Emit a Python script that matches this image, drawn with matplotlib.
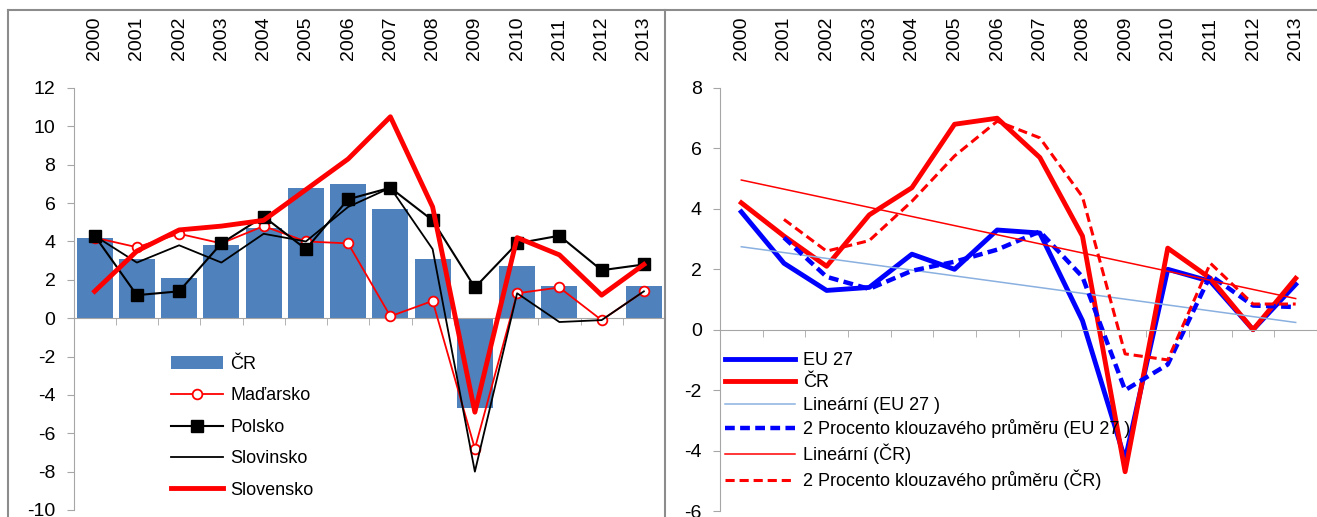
import numpy as np
import pandas as pd
from matplotlib import pyplot as plt
from matplotlib.lines import Line2D

plt.rcParams['font.family'] = ['Liberation Sans Narrow', 'Liberation Sans', 'DejaVu Sans']
plt.rcParams['axes.unicode_minus'] = False

years = [str(y) for y in range(2000, 2014)]

# left chart
cr = [4.2, 3.1, 2.1, 3.8, 4.7, 6.8, 7.0, 5.7, 3.1, -4.7, 2.7, 1.7, 0.0, 1.7]
madarsko = [4.2, 3.7, 4.4, 3.9, 4.8, 4.0, 3.9, 0.1, 0.9, -6.8, 1.3, 1.6, -0.1, 1.4]
polsko = [4.3, 1.2, 1.4, 3.9, 5.3, 3.6, 6.2, 6.8, 5.1, 1.6, 3.9, 4.3, 2.5, 2.8]
slovinsko = [4.3, 2.9, 3.8, 2.9, 4.4, 4.0, 5.8, 6.8, 3.6, -8.0, 1.3, -0.2, -0.1, 1.4]
slovensko = [1.4, 3.5, 4.6, 4.8, 5.1, 6.7, 8.3, 10.5, 5.8, -4.9, 4.2, 3.3, 1.2, 2.8]

# right chart
eu27 = [3.9, 2.2, 1.3, 1.4, 2.5, 2.0, 3.3, 3.2, 0.3, -4.3, 2.0, 1.6, 0.0, 1.5]

W, H = 1317, 517
AXIS_GREY = '#A6A6A6'
FRAME_GREY = '#8C8C8C'


def px_axes(fig, x0, x1, ytop, ybot):
    return fig.add_axes([x0 / W, (H - ybot) / H, (x1 - x0) / W, (ybot - ytop) / H])


def style_axes(ax, ymin, ymax, px_per_cat, x0, x1):
    x = np.arange(len(years))
    ax.set_xlim(-0.5, -0.5 + (x1 - x0) / px_per_cat)
    ax.set_ylim(ymin, ymax)
    ax.set_yticks(np.arange(ymin, ymax + 1, 2))
    ax.set_xticks(x)
    ax.set_xticklabels(years)
    ax.set_xticks(np.arange(0.5, len(years), 1), minor=True)
    for s in ['top', 'right']:
        ax.spines[s].set_visible(False)
    ax.spines['bottom'].set_position(('data', 0))
    ax.spines['bottom'].set_color(AXIS_GREY)
    ax.spines['left'].set_color(AXIS_GREY)
    ax.tick_params(axis='x', which='major', bottom=False, top=False,
                   labelbottom=False, labeltop=True, labelrotation=90,
                   labelsize=14, pad=17)
    ax.tick_params(axis='x', which='minor', bottom=True, direction='out',
                   length=5, color=AXIS_GREY)
    ax.tick_params(axis='y', direction='out', length=5, color=AXIS_GREY,
                   labelsize=14, pad=8)
    ax.set_facecolor('none')


fig = plt.figure(figsize=(W / 100, H / 100), dpi=100)

# ---- left panel
lx0, lx1 = 73.5, 665
ax1 = px_axes(fig, lx0, lx1, 88, 510)
x = np.arange(len(years))
b = ax1.bar(x, cr, width=0.85, color='#4F81BD', label='ČR', zorder=1)
l1, = ax1.plot(x, madarsko, color='red', lw=1.3, marker='o', ms=7,
               mfc='white', mec='red', mew=1.3, label='Maďarsko', zorder=3)
l2, = ax1.plot(x, polsko, color='black', lw=1.5, marker='s', ms=8,
               label='Polsko', zorder=4)
l3, = ax1.plot(x, slovinsko, color='black', lw=1.3, label='Slovinsko', zorder=3)
l4, = ax1.plot(x, slovensko, color='red', lw=3.5, label='Slovensko', zorder=5)
style_axes(ax1, -10, 12, 42.9, lx0, lx1)
ax1.legend(handles=[b, l1, l2, l3, l4], loc='upper left',
           bbox_to_anchor=(162 / W, 1 - 347 / H),
           bbox_transform=fig.transFigure, frameon=False, fontsize=13,
           handlelength=2.9, labelspacing=0.8, handletextpad=0.4,
           borderpad=0)

# ---- right panel
rx0, rx1 = 720, 1317
ax2 = px_axes(fig, rx0, rx1, 88, 511)
eu = pd.Series(eu27)
czr = pd.Series(cr)
lin_eu = np.polyval(np.polyfit(x, eu, 1), x)
lin_cr = np.polyval(np.polyfit(x, czr, 1), x)
ma_eu = eu.rolling(2).mean()
ma_cr = czr.rolling(2).mean()

ax2.plot(x, eu, color='blue', lw=3.5, label='EU 27')
ax2.plot(x, czr, color='red', lw=3.5, label='ČR')
ax2.plot(x, lin_eu, color='#8AB0E0', lw=1.1, label='Lineární (EU 27 )')
ax2.plot(x, ma_eu, color='blue', lw=3.2, ls=(0, (2.2, 1.2)),
         label='2 Procento klouzavého průměru (EU 27 )')
ax2.plot(x, lin_cr, color='red', lw=1.1, label='Lineární (ČR)')
ax2.plot(x, ma_cr, color='red', lw=2.2, ls=(0, (3, 1.6)),
         label='2 Procento klouzavého průměru (ČR)')
style_axes(ax2, -6, 8, 43.3, rx0, rx1)
ax2.legend(loc='upper left', bbox_to_anchor=(716 / W, 1 - 343 / H),
           bbox_transform=fig.transFigure, frameon=False, fontsize=13,
           handlelength=3.9, labelspacing=0.3, handletextpad=0.4,
           borderpad=0)

# panel frames
fig.add_artist(Line2D([8 / W, 8 / W], [0, 1 - 10 / H], color=FRAME_GREY, lw=1.5))
fig.add_artist(Line2D([8 / W, 1], [1 - 10 / H, 1 - 10 / H], color=FRAME_GREY, lw=1.5))
fig.add_artist(Line2D([665 / W, 665 / W], [0, 1 - 10 / H], color=FRAME_GREY, lw=1.5))

plt.savefig('out.png', dpi=100)
